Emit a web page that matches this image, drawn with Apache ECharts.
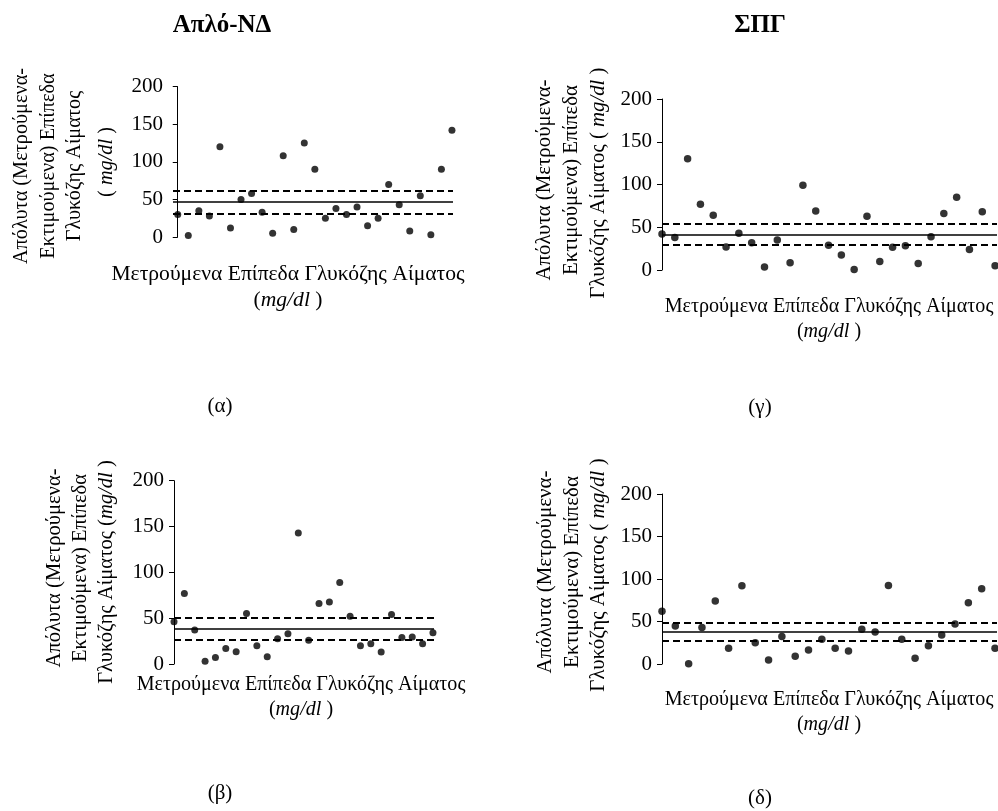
<!DOCTYPE html>
<html>
<head>
<meta charset="utf-8">
<script src="https://cdn.jsdelivr.net/npm/echarts@6/dist/echarts.min.js"></script>
<style>
html,body{margin:0;padding:0;background:#fff;}
#main{width:998px;height:811px;}
</style>
</head>
<body>
<div id="main"></div>
<script>
// ---- Data ----
const yTicks = [0, 50, 100, 150, 200];

// (α) Απλό-ΝΔ
const valuesA = [30, 2, 35, 28, 120, 12, 50, 58, 33, 5, 108, 10, 125, 90, 25, 38, 30, 40, 15, 25, 70, 43, 8, 55, 3, 90, 142];
const linesA = { mean: 47.5, upper: 61, lower: 31 };

// (β)
const valuesB = [46, 77, 37, 3, 7, 17, 13.5, 55, 20, 8, 27.6, 33, 143, 26, 66, 67.6, 89, 52, 20, 22, 13, 54, 29, 29.5, 22, 34];
const linesB = { mean: 38.5, upper: 51, lower: 27 };

// (γ) ΣΠΓ
const valuesG = [42, 38, 130, 77, 64, 27, 43, 32, 3.5, 35, 8.5, 99, 69, 29, 17.5, 0.5, 63, 10, 26.5, 28.5, 7.5, 39, 66, 85, 24, 68, 5];
const linesG = { mean: 41.7, upper: 54, lower: 29.6 };

// (δ)
const valuesD = [62, 44.7, 0.4, 43, 74, 18.4, 92, 25, 4.7, 32.5, 9, 16.5, 29, 18.4, 15.3, 40.8, 37.6, 92.5, 29, 6.7, 21.6, 34, 47, 72, 88.6, 18.4];
const linesD = { mean: 37.6, upper: 48.6, lower: 27.5 };

const titleLeft = 'Απλό-ΝΔ';
const titleRight = 'ΣΠΓ';
const yLabelLines = ['Απόλυτα (Μετρούμενα-', 'Εκτιμούμενα) Επίπεδα', 'Γλυκόζης Αίματος'];
const xLabelLine = 'Μετρούμενα Επίπεδα Γλυκόζης Αίματος';
const unitText = 'mg/dl';
const panelTags = ['(α)', '(β)', '(γ)', '(δ)'];

// ---- Layout ----
const FONT = '"Liberation Serif", "Times New Roman", serif';
const TICK_FS = 21;

const panels = [
  { values: valuesA, lines: linesA, grid: { left: 173, top: 86.7, width: 280, height: 150.3 }, xmin: -0.45, xmax: 26.1, size: 7 },
  { values: valuesG, lines: linesG, grid: { left: 662, top: 99, width: 335, height: 171 }, xmin: 0, xmax: 26.15, size: 7.5 },
  { values: valuesB, lines: linesB, grid: { left: 174, top: 480.7, width: 260, height: 183.3 }, xmin: 0, xmax: 25.1, size: 7 },
  { values: valuesD, lines: linesD, grid: { left: 662, top: 494, width: 335, height: 170 }, xmin: 0, xmax: 25.15, size: 7.5 }
];

const grids = [], xAxes = [], yAxes = [], series = [];
panels.forEach((p, i) => {
  grids.push(Object.assign({ containLabel: false }, p.grid));
  xAxes.push({ type: 'value', gridIndex: i, min: p.xmin, max: p.xmax, show: false });
  yAxes.push({
    type: 'value', gridIndex: i, min: yTicks[0], max: yTicks[yTicks.length - 1], interval: yTicks[1] - yTicks[0],
    axisLine: { show: true, lineStyle: { color: '#000', width: 1 } },
    axisTick: { show: true, length: 5, lineStyle: { color: '#000' } },
    axisLabel: { color: '#000', fontFamily: FONT, fontSize: TICK_FS, margin: 10 },
    splitLine: { show: false }
  });
  series.push({
    type: 'scatter', xAxisIndex: i, yAxisIndex: i, clip: false,
    symbol: 'circle', symbolSize: p.size,
    itemStyle: { color: '#000' },
    data: p.values.map((v, k) => [k, v]),
    markLine: {
      silent: true, symbol: 'none', label: { show: false },
      data: [
        { yAxis: p.lines.mean, lineStyle: { color: '#000', width: 1.6, type: 'solid' } },
        { yAxis: p.lines.upper, lineStyle: { color: '#000', width: 2, type: [7, 4] } },
        { yAxis: p.lines.lower, lineStyle: { color: '#000', width: 2, type: [7, 4] } }
      ]
    }
  });
});

function mkRich(fs) {
  return {
    i: { fontFamily: FONT, fontSize: fs, fontStyle: 'italic', fill: '#000' }
  };
}
function txt(x, y, text, fs, opts) {
  opts = opts || {};
  const el = {
    type: 'text', x: x, y: y, silent: true,
    style: Object.assign({ text: text, fontFamily: FONT, fontSize: fs, fill: '#000', align: 'center', verticalAlign: 'middle', rich: mkRich(fs) }, opts.style || {})
  };
  if (opts.rotation) el.rotation = opts.rotation;
  return el;
}
const unitRich = '({i|' + unitText + '} )';
const unitRich2 = '( {i|' + unitText + '} )';
const R = Math.PI / 2;
const rot = { rotation: R };

const graphic = [
  txt(222, 26, titleLeft, 25, { style: { fontWeight: 'bold' } }),
  txt(760, 26, titleRight, 25, { style: { fontWeight: 'bold' } }),
  // α y label (4 lines)
  txt(22, 166, yLabelLines[0], 20.3, rot),
  txt(48.5, 166, yLabelLines[1], 20.3, rot),
  txt(75, 166, yLabelLines[2], 20.3, rot),
  txt(106.5, 162, unitRich2, 20.3, rot),
  // α x label
  txt(288, 274, xLabelLine, 21.6), txt(288, 300, unitRich, 21.6),
  // γ
  txt(545, 180, yLabelLines[0], 20.8, rot),
  txt(572, 180, yLabelLines[1], 20.8, rot),
  txt(598.5, 183, yLabelLines[2] + ' ' + unitRich2, 20.8, rot),
  txt(829, 307, xLabelLine, 20.1), txt(829, 332, unitRich, 20.1),
  // β
  txt(55, 568, yLabelLines[0], 20.6, rot),
  txt(81, 568, yLabelLines[1], 20.6, rot),
  txt(107, 572, yLabelLines[2] + ' ' + unitRich, 20.6, rot),
  txt(301, 685, xLabelLine, 20.1), txt(301, 710, unitRich, 20.1),
  // δ
  txt(545, 572, yLabelLines[0], 21, rot),
  txt(572, 572, yLabelLines[1], 21, rot),
  txt(598.5, 575, yLabelLines[2] + ' ' + unitRich2, 21, rot),
  txt(829, 700, xLabelLine, 20.1), txt(829, 725, unitRich, 20.1),
  // panel tags
  txt(220, 406, panelTags[0], 21),
  txt(220, 793, panelTags[1], 21),
  txt(760, 407, panelTags[2], 21),
  txt(760, 798, panelTags[3], 21)
];

const chart = echarts.init(document.getElementById('main'), null, { renderer: 'canvas' });
chart.setOption({
  animation: false,
  backgroundColor: '#fff',
  grid: grids, xAxis: xAxes, yAxis: yAxes, series: series,
  graphic: graphic
});
</script>
</body>
</html>
